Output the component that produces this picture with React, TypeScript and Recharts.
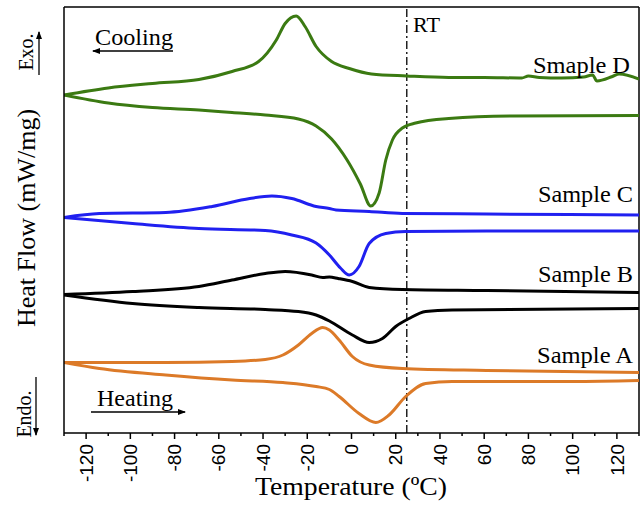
import React from "react";
import { LineChart, Line, XAxis, YAxis, ReferenceLine } from "recharts";

// DSC traces: [temperature °C, heat flow (arbitrary units, curves offset for clarity)]
const sampleDCooling = [
  [-130, 6.8], [-110, 6.94], [-90, 7.03], [-69, 7.11], [-54, 7.27], [-42, 7.47],
  [-34, 7.9], [-30, 8.23], [-25, 8.38], [-21, 8.17], [-16, 7.77], [-9, 7.47],
  [-1, 7.33], [9, 7.22], [25, 7.18], [44, 7.15], [60, 7.15], [77, 7.14],
  [80, 7.18], [85, 7.15], [95, 7.14], [105, 7.16], [109, 7.2], [111, 7.08],
  [118, 7.17], [121, 7.22], [130, 7.12],
];
const sampleDHeating = [
  [-130, 6.8], [-110, 6.64], [-90, 6.55], [-69, 6.5], [-54, 6.45], [-39, 6.4],
  [-24, 6.32], [-16, 6.18], [-9, 5.92], [-2, 5.5], [4, 5.02], [8.7, 4.58],
  [12.5, 4.84], [15.5, 5.5], [18.5, 5.9], [23, 6.14], [29, 6.24], [44, 6.33],
  [73, 6.38], [130, 6.39],
];
const sampleCCooling = [
  [-130, 4.35], [-114, 4.43], [-84, 4.45], [-63, 4.57], [-46, 4.73], [-36, 4.78],
  [-27, 4.73], [-16, 4.57], [-10, 4.53], [-7, 4.5], [8, 4.47], [23, 4.43],
  [61, 4.42], [130, 4.4],
];
const sampleCHeating = [
  [-130, 4.35], [-99, 4.23], [-69, 4.13], [-39, 4.09], [-27, 4.0], [-16, 3.84],
  [-10, 3.6], [-5, 3.34], [-1, 3.2], [3.4, 3.37], [8, 3.83], [15.5, 4.03],
  [24.5, 4.07], [61, 4.08], [130, 4.08],
];
const sampleBCooling = [
  [-130, 2.81], [-99, 2.87], [-69, 2.97], [-54, 3.1], [-39, 3.23], [-30, 3.27],
  [-18, 3.2], [-13, 3.15], [-10, 3.16], [-6, 3.13], [0.4, 3.07], [8, 2.95],
  [23, 2.91], [61, 2.89], [130, 2.85],
];
const sampleBHeating = [
  [-130, 2.8], [-99, 2.63], [-69, 2.55], [-39, 2.51], [-24, 2.47], [-16, 2.4],
  [-10, 2.28], [0.4, 2.0], [8, 1.85], [14, 1.93], [20, 2.17],
  [26, 2.33], [33.5, 2.47], [45.5, 2.5], [130, 2.53],
];
const sampleACooling = [
  [-130, 1.45], [-84, 1.45], [-54, 1.47], [-39, 1.51], [-31, 1.6], [-24, 1.8],
  [-18, 2.03], [-13, 2.15], [-10, 2.1], [-5.6, 1.9], [0.4, 1.57], [8, 1.4],
  [23, 1.33], [61, 1.29], [130, 1.25],
];
const sampleAHeating = [
  [-130, 1.45], [-114, 1.33], [-84, 1.2], [-54, 1.1], [-31, 1.05], [-16, 0.97],
  [-10, 0.91], [-5.6, 0.77], [3.4, 0.43], [11, 0.25], [17, 0.4], [24.5, 0.77],
  [33.5, 1.03], [45.5, 1.07], [100, 1.07], [130, 1.09],
];

const xTicks = [-130, -120, -110, -100, -90, -80, -70, -60, -50, -40, -30, -20, -10,
  0, 10, 20, 30, 40, 50, 60, 70, 80, 90, 100, 110, 120, 130];
const roomTemp = 25;

const GREEN = "#3b7a12";
const BLUE = "#2020f0";
const BLACK = "#000000";
const ORANGE = "#dc7a28";

const curves = [
  { name: "D-cool", pts: sampleDCooling, color: GREEN },
  { name: "D-heat", pts: sampleDHeating, color: GREEN },
  { name: "C-cool", pts: sampleCCooling, color: BLUE },
  { name: "C-heat", pts: sampleCHeating, color: BLUE },
  { name: "B-cool", pts: sampleBCooling, color: BLACK },
  { name: "B-heat", pts: sampleBHeating, color: BLACK },
  { name: "A-cool", pts: sampleACooling, color: ORANGE },
  { name: "A-heat", pts: sampleAHeating, color: ORANGE },
];

const serif = "'Liberation Serif', 'Times New Roman', serif";
const sans = "'Liberation Sans', Arial, sans-serif";

const TempTick = (props: any) => {
  const { x, y, payload } = props;
  const major = payload.value % 20 === 0;
  const ly = y + 11;
  return (
    <g>
      <line x1={x} y1={y} x2={x} y2={y + (major ? 6 : 3)} stroke="#000" strokeWidth={1.5} />
      {major && (
        <text
          x={x}
          y={ly}
          transform={`rotate(-90, ${x}, ${ly})`}
          textAnchor="end"
          dy="0.35em"
          fontSize={19}
          fontFamily={sans}
          fill="#000"
        >
          {payload.value}
        </text>
      )}
    </g>
  );
};

const Overlay = () => (
  <svg
    width={643}
    height={505}
    style={{ position: "absolute", left: 0, top: 0, pointerEvents: "none" }}
  >
    <defs>
      <marker id="head" markerWidth="8" markerHeight="6" refX="7" refY="3" orient="auto" markerUnits="userSpaceOnUse">
        <path d="M0,0 L8,3 L0,6 Z" fill="#000" />
      </marker>
    </defs>
    {/* axis titles */}
    <text x={255} y={495} textLength={192} lengthAdjust="spacingAndGlyphs" fontSize={26} fontFamily={serif} fill="#000">
      Temperature (ºC)
    </text>
    <text
      x={35}
      y={218}
      transform="rotate(-90, 35, 218)"
      textAnchor="middle"
      fontSize={26}
      fontFamily={serif}
      fill="#000"
    >
      Heat Flow (mW/mg)
    </text>
    {/* exo / endo */}
    <text x={33} y={52} transform="rotate(-90, 33, 52)" textAnchor="middle" fontSize={20} fontFamily={serif}>
      Exo.
    </text>
    <line x1={39} y1={75} x2={39} y2={32} stroke="#000" strokeWidth={1.3} markerEnd="url(#head)" />
    <text x={31} y={414} transform="rotate(-90, 31, 414)" textAnchor="middle" fontSize={20} fontFamily={serif}>
      Endo.
    </text>
    <line x1={36} y1={377} x2={36} y2={435} stroke="#000" strokeWidth={1.3} markerEnd="url(#head)" />
    {/* cooling / heating */}
    <text x={95} y={45} textLength={78} lengthAdjust="spacingAndGlyphs" fontSize={24} fontFamily={serif}>Cooling</text>
    <line x1={173} y1={51} x2={93} y2={51} stroke="#000" strokeWidth={1.3} markerEnd="url(#head)" />
    <text x={97} y={406} textLength={76} lengthAdjust="spacingAndGlyphs" fontSize={24} fontFamily={serif}>Heating</text>
    <line x1={91} y1={412} x2={185} y2={412} stroke="#000" strokeWidth={1.3} markerEnd="url(#head)" />
    {/* sample labels */}
    <text x={413} y={32} textLength={27} lengthAdjust="spacingAndGlyphs" fontSize={21} fontFamily={serif}>RT</text>
    <text x={533} y={73} textLength={97} lengthAdjust="spacingAndGlyphs" fontSize={24} fontFamily={serif}>Smaple D</text>
    <text x={538} y={202} textLength={95} lengthAdjust="spacingAndGlyphs" fontSize={24} fontFamily={serif}>Sample C</text>
    <text x={538} y={282} textLength={95} lengthAdjust="spacingAndGlyphs" fontSize={24} fontFamily={serif}>Sample B</text>
    <text x={537} y={363} textLength={96} lengthAdjust="spacingAndGlyphs" fontSize={24} fontFamily={serif}>Sample A</text>
  </svg>
);

export default function App() {
  return (
    <div style={{ position: "absolute", left: 0, top: 0, width: 643, height: 505, background: "#fff" }}>
      <LineChart width={643} height={505} margin={{ top: 7, right: 4, bottom: 0, left: 0 }}>
        <XAxis
          type="number"
          dataKey="t"
          domain={[-130, 130]}
          ticks={xTicks}
          interval={0}
          height={72}
          tickSize={0}
          tickMargin={0}
          tickLine={false}
          tick={<TempTick />}
          axisLine={{ stroke: "#000", strokeWidth: 1.5 }}
          allowDataOverflow
        />
        <YAxis
          type="number"
          dataKey="v"
          domain={[0.04, 8.56]}
          width={64}
          tick={false}
          tickLine={false}
          axisLine={{ stroke: "#000", strokeWidth: 1.5 }}
          allowDataOverflow
        />
        <ReferenceLine y={8.56} stroke="#000" strokeWidth={1.5} />
        <ReferenceLine x={130} stroke="#000" strokeWidth={1.5} />
        <ReferenceLine x={roomTemp} stroke="#000" strokeWidth={1.3} strokeDasharray="8 3 2 3" />
        {curves.map((c) => (
          <Line
            key={c.name}
            data={c.pts.map(([t, v]) => ({ t, v }))}
            dataKey="v"
            type="monotone"
            stroke={c.color}
            strokeWidth={3}
            dot={false}
            activeDot={false}
            isAnimationActive={false}
          />
        ))}
      </LineChart>
      <Overlay />
    </div>
  );
}
